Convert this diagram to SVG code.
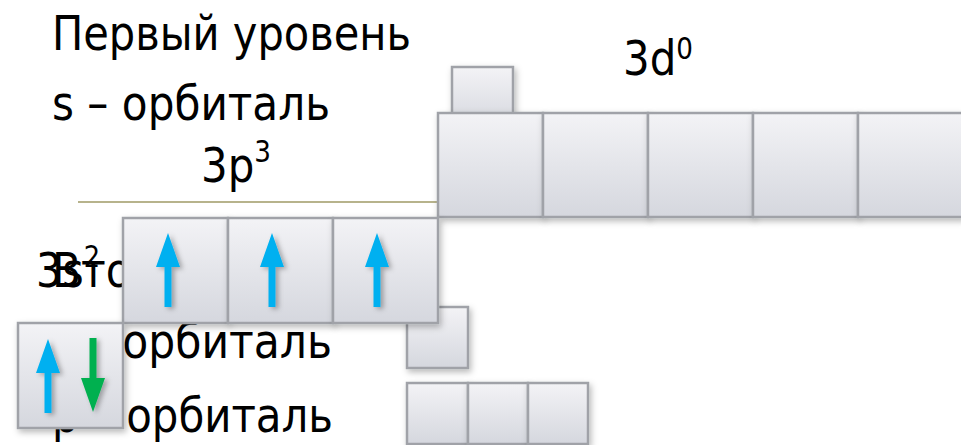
<svg xmlns="http://www.w3.org/2000/svg" width="961" height="445" viewBox="0 0 961 445">
  <defs>
    <linearGradient id="cellFill" x1="0" y1="0" x2="0" y2="1">
      <stop offset="0" stop-color="#f3f3f6"/>
      <stop offset="1" stop-color="#d5d7de"/>
    </linearGradient>
    <filter id="shadow" x="-20%" y="-20%" width="150%" height="150%">
      <feDropShadow dx="2" dy="3" stdDeviation="3" flood-color="#000" flood-opacity="0.28"/>
    </filter>
    <filter id="arrowShadow" x="-50%" y="-20%" width="200%" height="150%">
      <feDropShadow dx="3" dy="2" stdDeviation="2.5" flood-color="#000" flood-opacity="0.3"/>
    </filter>
    <path id="up" d="M-3.5,0 L-3.5,-40 L-12,-40 L0,-74 L12,-40 L3.5,-40 L3.5,0 Z"/>
    <path id="down" d="M-3.5,0 L-3.5,40 L-12,40 L0,74 L12,40 L3.5,40 L3.5,0 Z"/>
  </defs>
  <style>
    .lbl { font-family: "DejaVu Sans", "Liberation Sans", sans-serif; font-size: 48px; fill: #000; }
    .sup { font-size: 30px; }
    .cell { fill: url(#cellFill); stroke: #a0a2a8; stroke-width: 2.5; filter: url(#shadow); }
    .spinUp { fill: #00b0f0; filter: url(#arrowShadow); }
    .spinDown { fill: #00b050; filter: url(#arrowShadow); }
  </style>

  <rect width="961" height="445" fill="#fff"/>

  <!-- outline text underneath the cells -->
  <g id="outline">
    <text class="lbl" x="52" y="50" textLength="359" lengthAdjust="spacingAndGlyphs">Первый уровень</text>
    <text class="lbl" x="52" y="120" textLength="278" lengthAdjust="spacingAndGlyphs">s – орбиталь</text>
    <text class="lbl" x="52" y="287" textLength="355" lengthAdjust="spacingAndGlyphs">Второй уровень</text>
    <text class="lbl" x="52" y="358" textLength="280" lengthAdjust="spacingAndGlyphs">s – орбиталь</text>
    <text class="lbl" x="52" y="432" textLength="281" lengthAdjust="spacingAndGlyphs">p – орбиталь</text>
  </g>

  <g id="connectors">
    <line x1="78" y1="202" x2="438" y2="202" stroke="#b7b38c" stroke-width="2"/>
  </g>

  <!-- sublevel labels -->
  <g id="label-3p">
    <text class="lbl" x="201" y="182" textLength="70" lengthAdjust="spacingAndGlyphs">3p<tspan class="sup" dy="-20">3</tspan></text>
  </g>
  <g id="label-3d">
    <text class="lbl" x="623" y="75" textLength="70" lengthAdjust="spacingAndGlyphs">3d<tspan class="sup" dy="-16">0</tspan></text>
  </g>
  <g id="label-3s">
    <text class="lbl" x="36" y="287" textLength="64" lengthAdjust="spacingAndGlyphs">3s<tspan class="sup" dy="-20">2</tspan></text>
  </g>

  <!-- first-level cells -->
  <g id="cell-1s">
    <rect class="cell" x="452" y="67" width="61" height="61"/>
  </g>
  <g id="cells-2p">
    <rect class="cell" x="407" y="383" width="61" height="61"/>
    <rect class="cell" x="468" y="383" width="60" height="61"/>
    <rect class="cell" x="528" y="383" width="60" height="61"/>
  </g>
  <g id="cell-2s">
    <rect class="cell" x="407" y="307" width="61" height="61"/>
  </g>

  <!-- 3d: five empty cells -->
  <g id="cells-3d">
    <rect class="cell" x="438" y="113" width="105" height="104"/>
    <rect class="cell" x="543" y="113" width="105" height="104"/>
    <rect class="cell" x="648" y="113" width="105" height="104"/>
    <rect class="cell" x="753" y="113" width="105" height="104"/>
    <rect class="cell" x="858" y="113" width="105" height="104"/>
  </g>

  <!-- 3p: three unpaired electrons -->
  <g id="cells-3p">
    <rect class="cell" x="123" y="218" width="105" height="105"/>
    <rect class="cell" x="228" y="218" width="105" height="105"/>
    <rect class="cell" x="333" y="218" width="105" height="105"/>
    <use href="#up" class="spinUp" x="168" y="307"/>
    <use href="#up" class="spinUp" x="272" y="307"/>
    <use href="#up" class="spinUp" x="377" y="307"/>
  </g>

  <!-- 3s: electron pair -->
  <g id="cell-3s">
    <rect class="cell" x="18" y="323" width="105" height="105"/>
    <use href="#up" class="spinUp" x="48" y="413"/>
    <use href="#down" class="spinDown" x="93" y="338"/>
  </g>
</svg>
